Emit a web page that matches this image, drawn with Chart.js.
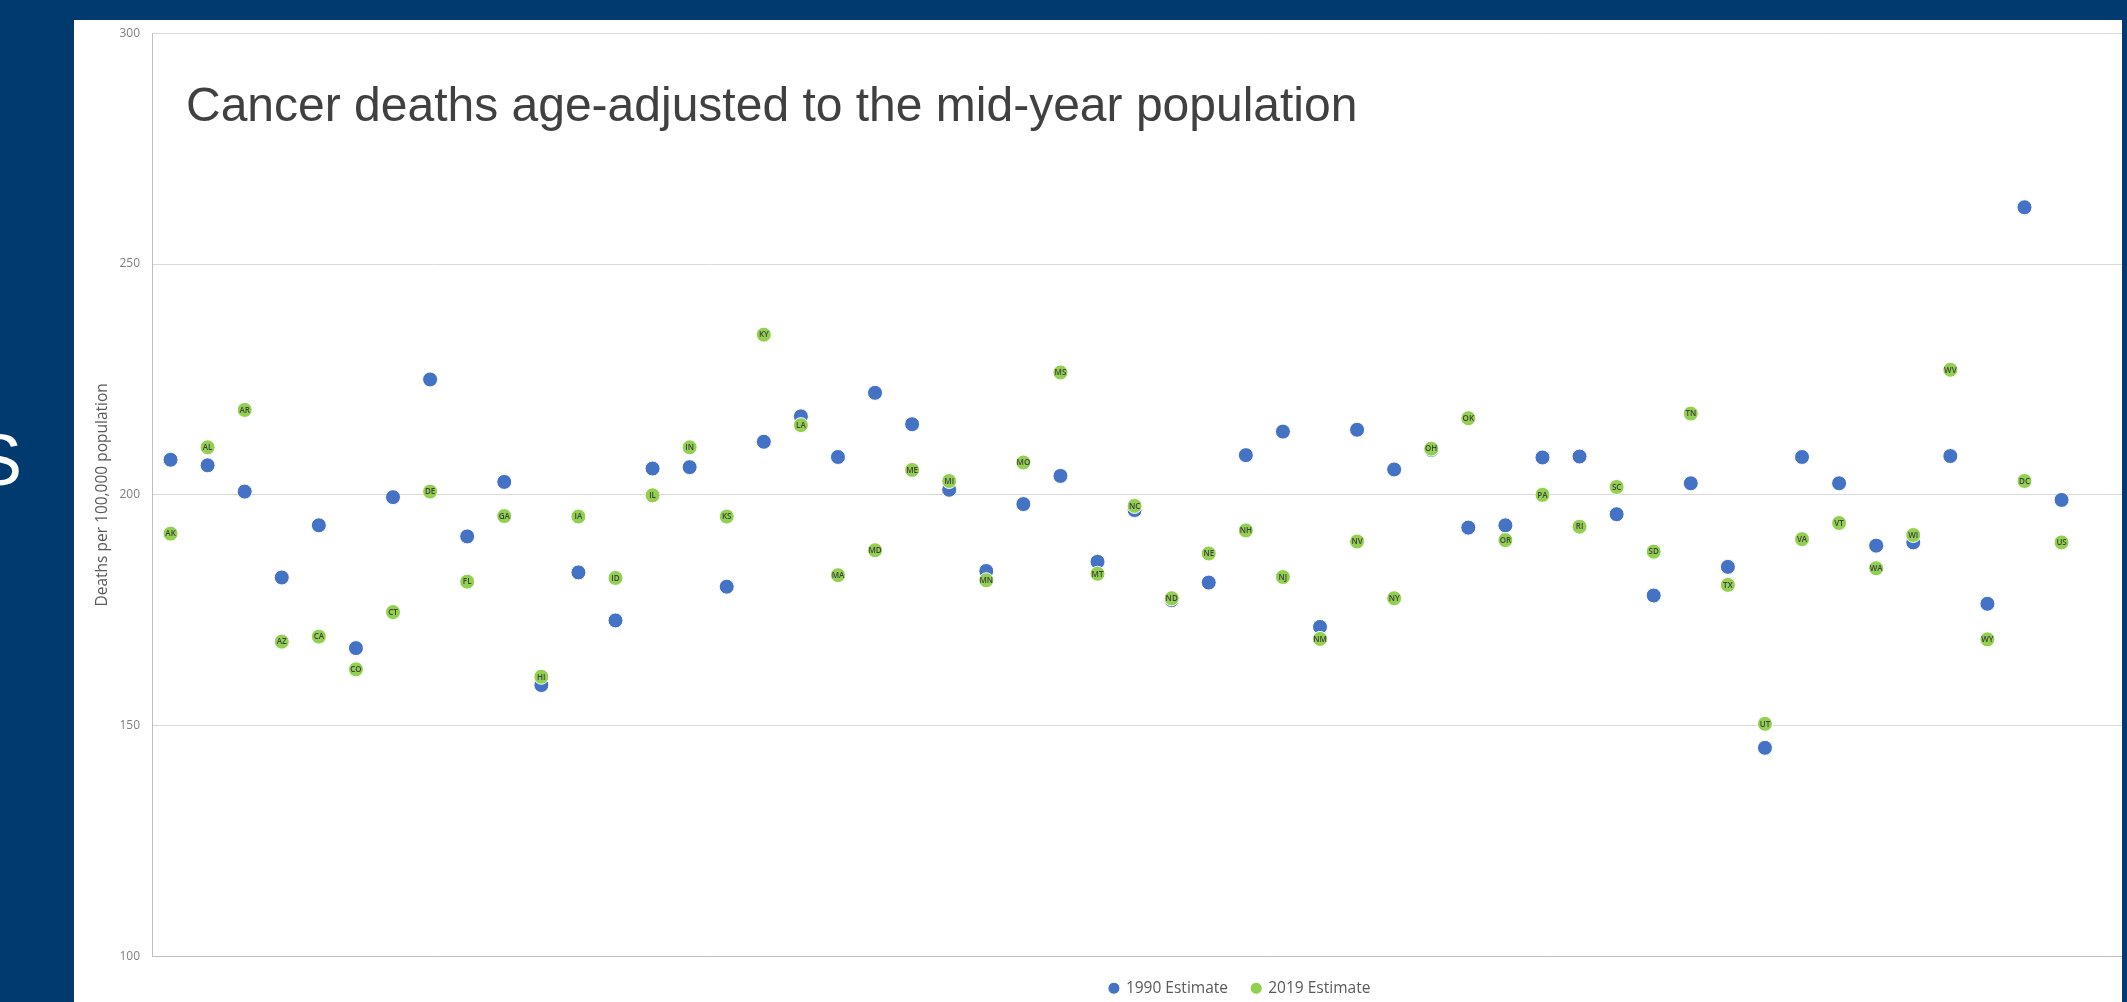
<!DOCTYPE html>
<html>
<head>
<meta charset="utf-8">
<script src="https://cdn.jsdelivr.net/npm/chart.js@4/dist/chart.umd.min.js"></script>
<style>
  html, body { margin: 0; padding: 0; }
  body { width: 2127px; height: 1002px; background: #003a6f; position: relative; overflow: hidden; }
  #edge { position: absolute; left: -26px; top: 424px; font: 72px "Liberation Sans", Arial, sans-serif; color: #fff; line-height: 1; }
  #panel { position: absolute; left: 74px; top: 20px; width: 2048px; height: 982px; background: #fff; overflow: hidden; }
  #wrap { position: absolute; left: 0; top: -6px; width: 2322px; height: 992px; }
  #title { position: absolute; left: 112px; top: 61px; font: 48px "Liberation Sans", Arial, sans-serif; color: #404040; line-height: 1; white-space: nowrap; }
</style>
</head>
<body>
<div id="edge">S</div>
<div id="panel">
  <div id="wrap"><canvas id="c"></canvas></div>
  <div id="title">Cancer deaths age-adjusted to the mid-year population</div>
</div>
<script>
// ── data ─────────────────────────────────────────────────────────────
const categories = ['AK','AL','AR','AZ','CA','CO','CT','DE','FL','GA','HI',
  'IA','ID','IL','IN','KS','KY','LA','MA','MD','ME','MI',
  'MN','MO','MS','MT','NC','ND','NE','NH','NJ','NM',
  'NV','NY','OH','OK','OR','PA','RI','SC','SD','TN','TX',
  'UT','VA','VT','WA','WI','WV','WY','DC','US'];

const est1990 = [207.6,206.4,200.7,182.1,193.4,166.8,199.5,225.0,191.0,202.8,158.8,
  183.2,172.8,205.7,206.0,180.1,211.5,217.0,208.2,222.1,215.3,201.1,
  183.5,198.0,204.1,185.5,196.7,177.2,181.0,208.6,213.7,171.4,
  214.1,205.5,209.7,192.9,193.4,208.1,208.3,195.8,178.2,202.5,184.4,
  145.2,208.2,202.5,189.0,189.7,208.4,176.4,262.3,198.9];

const est2019 = [191.6,210.3,218.4,168.2,169.3,162.2,174.6,200.7,181.2,195.4,160.6,
  195.3,182.0,199.9,210.3,195.3,234.7,215.1,182.6,188.0,205.4,203.0,
  181.5,207.0,226.5,182.9,197.6,177.6,187.3,192.3,182.2,168.8,
  189.9,177.6,210.0,216.6,190.2,200.0,193.1,201.7,187.7,217.6,180.5,
  150.4,190.4,193.9,184.1,191.3,227.1,168.7,203.0,189.7];

const seriesNames = ['1990 Estimate', '2019 Estimate'];
const yTicks = [100, 150, 200, 250, 300];

const BLUE = '#4472c4';
const GREEN = '#92d050';

const toPts = vals => vals.map((v, i) => ({ x: i + 1, y: v }));

// state codes printed inside the 2019 markers
const codeLabels = {
  id: 'codeLabels',
  afterDatasetsDraw(chart) {
    const { ctx } = chart;
    const meta = chart.getDatasetMeta(1);
    ctx.save();
    ctx.font = '600 8px "Open Sans", sans-serif';
    ctx.fillStyle = '#404040';
    ctx.textAlign = 'center';
    ctx.textBaseline = 'middle';
    meta.data.forEach((pt, i) => ctx.fillText(categories[i], pt.x, pt.y + 0.5));
    ctx.restore();
  },
};

new Chart(document.getElementById('c'), {
  type: 'scatter',
  data: {
    datasets: [
      { label: seriesNames[0], data: toPts(est1990), order: 1,
        backgroundColor: BLUE, borderColor: '#ffffff', borderWidth: 1,
        pointRadius: 7.5, pointHoverRadius: 7.5 },
      { label: seriesNames[1], data: toPts(est2019), order: 0,
        backgroundColor: GREEN, borderColor: '#ffffff', borderWidth: 1,
        pointRadius: 7.5, pointHoverRadius: 7.5 },
    ],
  },
  options: {
    responsive: true,
    maintainAspectRatio: false,
    animation: false,
    layout: { padding: { top: 7, left: 10, right: 0, bottom: 0 } },
    plugins: {
      legend: {
        position: 'bottom',
        labels: {
          usePointStyle: true,
          pointStyle: 'circle',
          boxWidth: 8.5,
          boxHeight: 8.5,
          padding: 24,
          color: '#595959',
          font: { family: '"Open Sans", sans-serif', size: 15.5 },
          sort: (a, b) => a.datasetIndex - b.datasetIndex,
        },
      },
      tooltip: { enabled: false },
    },
    scales: {
      x: { type: 'linear', display: false, min: 0.5, max: 60.79 },
      y: {
        min: yTicks[0],
        max: yTicks[yTicks.length - 1],
        afterBuildTicks: s => { s.ticks = yTicks.map(v => ({ value: v })); },
        afterFit: s => { s.width = 68; },
        ticks: { color: '#7f7f7f', padding: 12, font: { family: '"Open Sans", sans-serif', size: 12 } },
        grid: { color: c => c.tick && c.tick.value === 100 ? '#bfbfbf' : '#d9d9d9', drawTicks: false },
        border: { color: '#bfbfbf' },
        title: {
          display: true,
          text: 'Deaths per 100,000 population',
          color: '#595959',
          padding: { top: 9, bottom: 0 },
          font: { family: '"Open Sans", sans-serif', size: 15.5 },
        },
      },
    },
  },
  plugins: [codeLabels],
});
</script>
</body>
</html>
